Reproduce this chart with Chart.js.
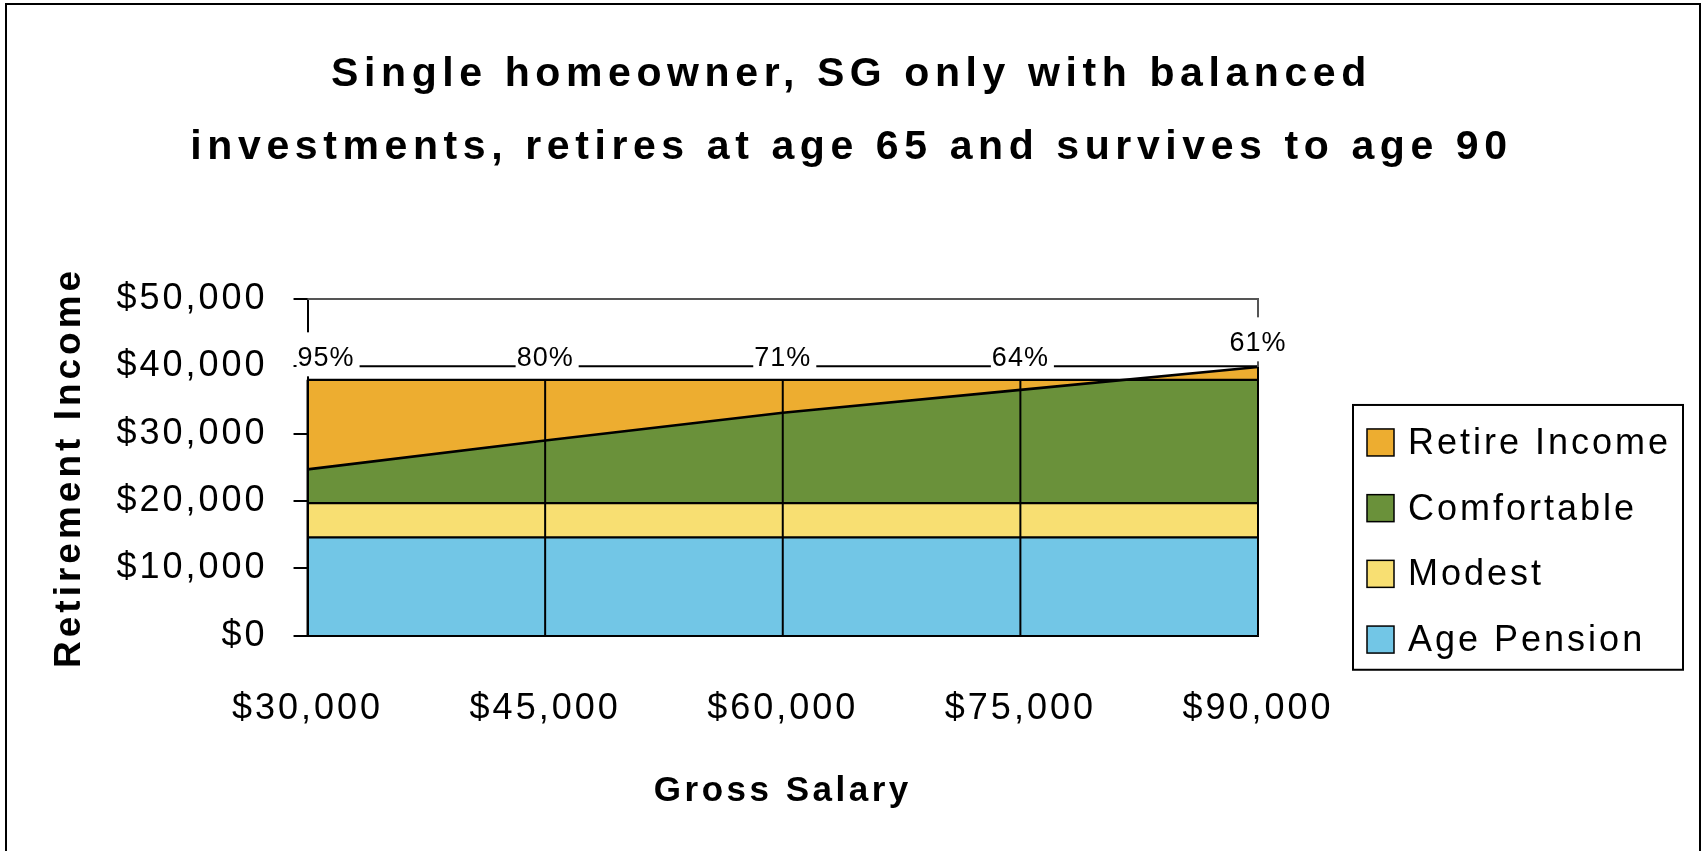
<!DOCTYPE html>
<html>
<head>
<meta charset="utf-8">
<script src="https://cdn.jsdelivr.net/npm/chart.js@4/dist/chart.umd.min.js"></script>
<style>
    html, body { margin: 0; padding: 0; background: #fff; }
    canvas { display: block; }
</style>
</head>
<body>
<canvas id="myChart" width="1703" height="851"></canvas>
<script>
var salaries = ['$30,000', '$45,000', '$60,000', '$75,000', '$90,000'];
var agePension = [14600, 14600, 14600, 14600, 14600];
var modestLevel = [19700, 19700, 19700, 19700, 19700];
var comfortableLevel = [38000, 38000, 38000, 38000, 38000];
var retireIncome = [24700, 29000, 33100, 36500, 39900];
var rateLine = [40000, 40000, 40000, 40000, 40000];
var replacementRate = ['95%', '80%', '71%', '64%', '61%'];
var yTicks = [0, 10000, 20000, 30000, 40000, 50000];

(function () {

    var FONT = "'Liberation Sans', Arial, Helvetica, sans-serif";
    var colors = {
        retire: '#EDAD30',
        comfortable: '#6A913A',
        modest: '#F8DF72',
        pension: '#72C6E6'
    };

    // the original has that wide excel letter spacing, pick it from the font
    function spacingFor(font) {
        var m = /(\d+(?:\.\d+)?)px/.exec(font);
        var size = m ? parseFloat(m[1]) : 12;
        var bold = /bold|700/.test(font);
        if (bold) {
            if (size >= 40) return '5.6px';
            if (size >= 37) return '4px';
            return '3.5px';
        }
        if (size >= 30) return '3px';
        return '1px';
    }

    var canvas = document.getElementById('myChart');
    var ctx = canvas.getContext('2d');
    var origFill = ctx.fillText.bind(ctx);
    var origMeasure = ctx.measureText.bind(ctx);
    ctx.fillText = function (t, x, y, w) {
        ctx.letterSpacing = spacingFor(ctx.font);
        return w === undefined ? origFill(t, x, y) : origFill(t, x, y, w);
    };
    ctx.measureText = function (t) {
        ctx.letterSpacing = spacingFor(ctx.font);
        return origMeasure(t);
    };

    var decorations = {
        id: 'decorations',
        beforeDraw: function (chart) {
            var c = chart.ctx;
            c.save();
            c.strokeStyle = '#000';
            c.lineWidth = 2;
            c.strokeRect(6, 4, chart.width - 9, chart.height + 20);
            c.restore();
        },
        afterDraw: function (chart) {
            var c = chart.ctx;
            var area = chart.chartArea;
            var xs = chart.scales.x;
            var ys = chart.scales.y;

            c.save();
            // plot frame, top and right
            c.strokeStyle = '#555';
            c.lineWidth = 2;
            c.beginPath();
            c.moveTo(area.left, area.top);
            c.lineTo(area.right, area.top);
            c.lineTo(area.right, area.bottom);
            c.stroke();

            // drop lines at every salary
            c.strokeStyle = '#000';
            for (var i = 0; i < salaries.length; i++) {
                var px = xs.getPixelForValue(i);
                c.beginPath();
                c.moveTo(px, ys.getPixelForValue(0));
                c.lineTo(px, ys.getPixelForValue(Math.max(comfortableLevel[i], retireIncome[i])));
                c.stroke();
            }

            // replacement rate labels sitting on the 40k line
            c.font = '27px ' + FONT;
            c.textAlign = 'left';
            c.textBaseline = 'alphabetic';
            var pts = chart.getDatasetMeta(0).data;
            pts.forEach(function (pt, i) {
                var text = replacementRate[i];
                var w = c.measureText(text).width;
                var base = i === pts.length - 1 ? pt.y - 15 : pt.y;
                var left = Math.max(pt.x - w / 2, area.left - 10);
                c.fillStyle = '#fff';
                c.fillRect(left - 1, base - 34, w + 6, 44);
                c.fillStyle = '#000';
                c.fillText(text, left, base);
            });

            // legend box
            var items = chart.data.datasets.filter(function (d) { return d.inLegend; });
            var lx = area.right + 95;
            var ly = area.top + 106;
            var step = 65.7;
            c.strokeStyle = '#000';
            c.lineWidth = 2;
            c.strokeRect(lx, ly, 330, step * items.length + 2);
            c.font = '36px ' + FONT;
            c.textBaseline = 'middle';
            items.forEach(function (d, i) {
                var cy = ly + 38 + i * step;
                c.fillStyle = d.backgroundColor;
                c.fillRect(lx + 14, cy - 14, 27, 27);
                c.lineWidth = 1.5;
                c.strokeRect(lx + 14, cy - 14, 27, 27);
                c.fillStyle = '#000';
                c.fillText(d.label, lx + 55, cy + 1);
            });
            c.restore();
        }
    };

    function area(label, data, color, target, width) {
        return {
            label: label,
            data: data,
            borderColor: '#000',
            borderWidth: width,
            backgroundColor: color,
            fill: target === 'origin' ? 'origin' : { target: target, above: color, below: color },
            pointRadius: 0,
            tension: 0,
            inLegend: true
        };
    }

    var datasets = [
        {
            label: 'Replacement rate',
            data: rateLine,
            borderColor: '#000',
            borderWidth: 2,
            fill: false,
            pointRadius: 0,
            inLegend: false
        },
        area('Retire Income', retireIncome, colors.retire, 2, 2.6),
        area('Comfortable', comfortableLevel, colors.comfortable, 3, 2.2),
        area('Modest', modestLevel, colors.modest, 4, 2.2),
        area('Age Pension', agePension, colors.pension, 'origin', 2.2)
    ];

    Chart.defaults.font.family = FONT;
    Chart.defaults.color = '#000';

    new Chart(canvas, {
        type: 'line',
        data: { labels: salaries, datasets: datasets },
        plugins: [decorations],
        options: {
            responsive: false,
            animation: false,
            layout: { padding: 8 },
            plugins: {
                legend: { display: false },
                tooltip: { enabled: false },
                filler: { drawTime: 'beforeDatasetsDraw' },
                title: {
                    display: true,
                    text: ['Single homeowner, SG only with balanced',
                           'investments, retires at age 65 and survives to age 90'],
                    color: '#000',
                    font: { size: 41, weight: 'bold', lineHeight: 1.78 },
                    padding: { top: 30.5, bottom: 114.5 }
                }
            },
            scales: {
                x: {
                    type: 'category',
                    offset: false,
                    grid: { display: false, drawTicks: false },
                    border: { display: true, color: '#000', width: 2, z: 1 },
                    ticks: {
                        padding: 52,
                        font: { size: 36 },
                        maxRotation: 0,
                        autoSkip: false
                    },
                    title: {
                        display: true,
                        text: 'Gross Salary',
                        font: { size: 35, weight: 'bold' },
                        padding: { top: -13, bottom: 31 }
                    }
                },
                y: {
                    min: 0,
                    max: 50000,
                    afterBuildTicks: function (axis) {
                        axis.ticks = yTicks.map(function (v) { return { value: v }; });
                    },
                    grid: { drawOnChartArea: false, drawTicks: true, tickLength: 14, color: '#000', lineWidth: 2 },
                    border: { display: true, color: '#000', width: 2, z: 1 },
                    ticks: {
                        padding: 26,
                        font: { size: 36 },
                        callback: function (v) { return '$' + v.toLocaleString('en-US'); }
                    },
                    title: {
                        display: true,
                        text: 'Retirement Income',
                        font: { size: 37, weight: 'bold' },
                        padding: { top: 40, bottom: -2 }
                    }
                },
                // empty right axis, only keeps room for the legend box
                y2: {
                    position: 'right',
                    display: true,
                    grid: { display: false, drawTicks: false },
                    border: { display: false },
                    ticks: { display: false },
                    afterFit: function (axis) { axis.width = 437; }
                }
            }
        }
    });

})();
</script>
</body>
</html>
